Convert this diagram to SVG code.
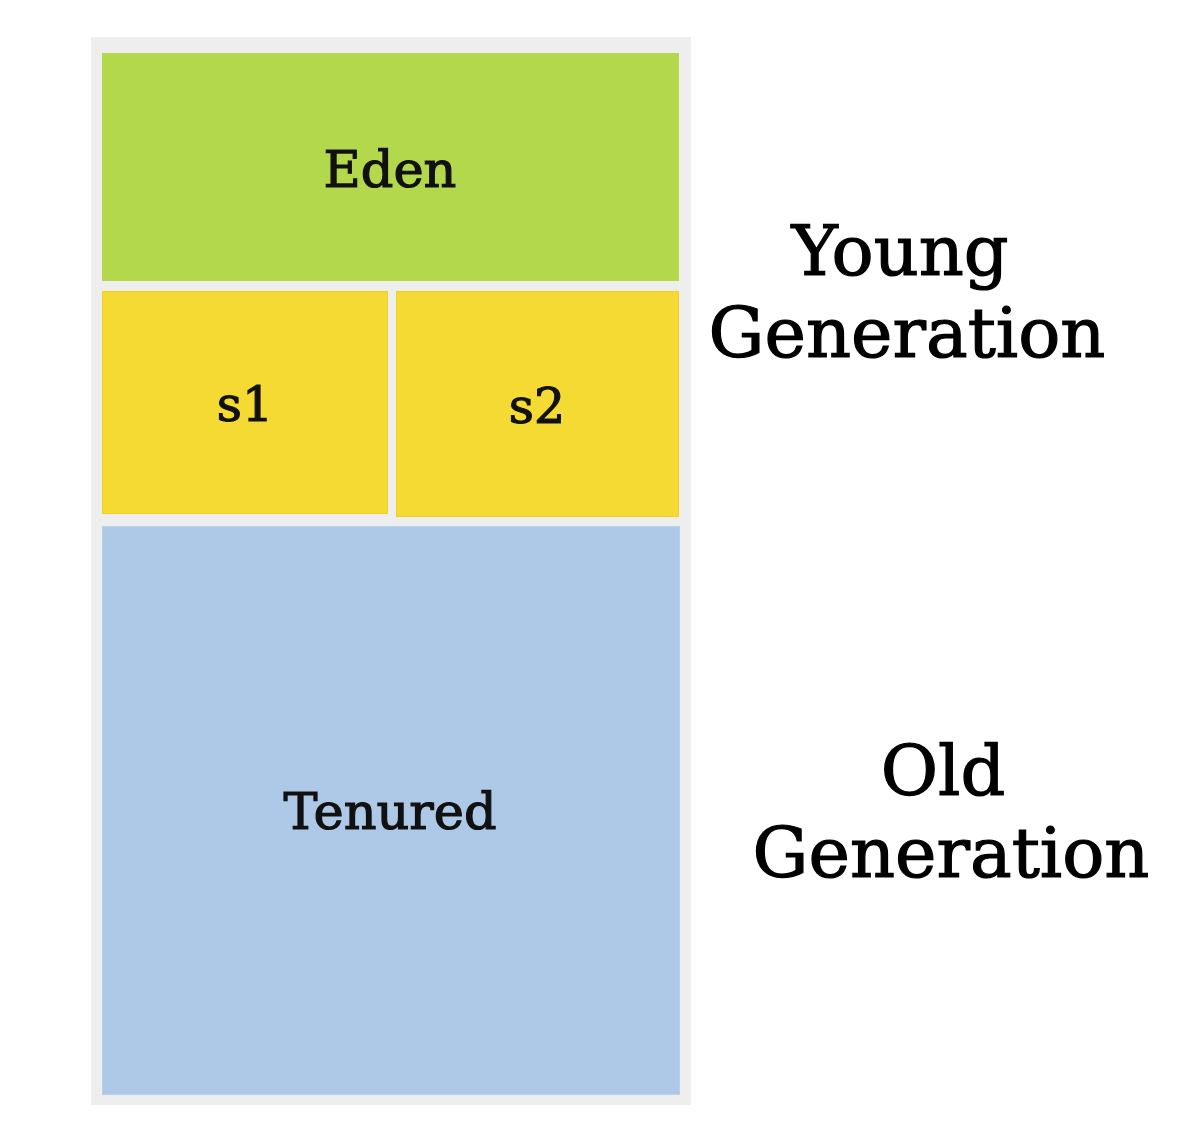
<svg xmlns="http://www.w3.org/2000/svg" width="1200" height="1147" viewBox="0 0 1200 1147">
<style>
.lbl{font-family:"DejaVu Serif","Liberation Serif",serif;fill:#111;text-anchor:middle;stroke:#111;stroke-width:1.2}
.big{font-family:"DejaVu Serif","Liberation Serif",serif;fill:#000;text-anchor:middle;font-size:70px;stroke:#000;stroke-width:1.2}
</style>
<rect width="1200" height="1147" fill="#fff"/>
<g id="heap"><rect x="91" y="37" width="600" height="1068" fill="#eeeeee"/></g>
<g id="eden">
<rect x="102" y="53" width="577" height="228" fill="#b3d84b"/>
<text class="lbl" x="390" y="187" font-size="51">Eden</text>
</g>
<g id="s1">
<rect x="102.5" y="291.5" width="285" height="222" fill="#f5da33" stroke="#f2d21f" stroke-width="1"/>
<text class="lbl" x="245" y="421" font-size="49">s1</text>
</g>
<g id="s2">
<rect x="396.5" y="291.5" width="282" height="225" fill="#f5da33" stroke="#f2d21f" stroke-width="1"/>
<text class="lbl" x="537" y="423" font-size="49">s2</text>
</g>
<g id="tenured">
<rect x="102.5" y="526.5" width="577" height="568" fill="#adc9e7" stroke="#b8d0ea" stroke-width="1"/>
<text class="lbl" x="390" y="829" font-size="51">Tenured</text>
</g>
<g id="young">
<text class="big" x="900" y="275">Young</text>
<text class="big" x="907" y="357">Generation</text>
</g>
<g id="old">
<text class="big" x="943" y="795">Old</text>
<text class="big" x="951" y="877">Generation</text>
</g>
<g id="connectors"/>
</svg>
